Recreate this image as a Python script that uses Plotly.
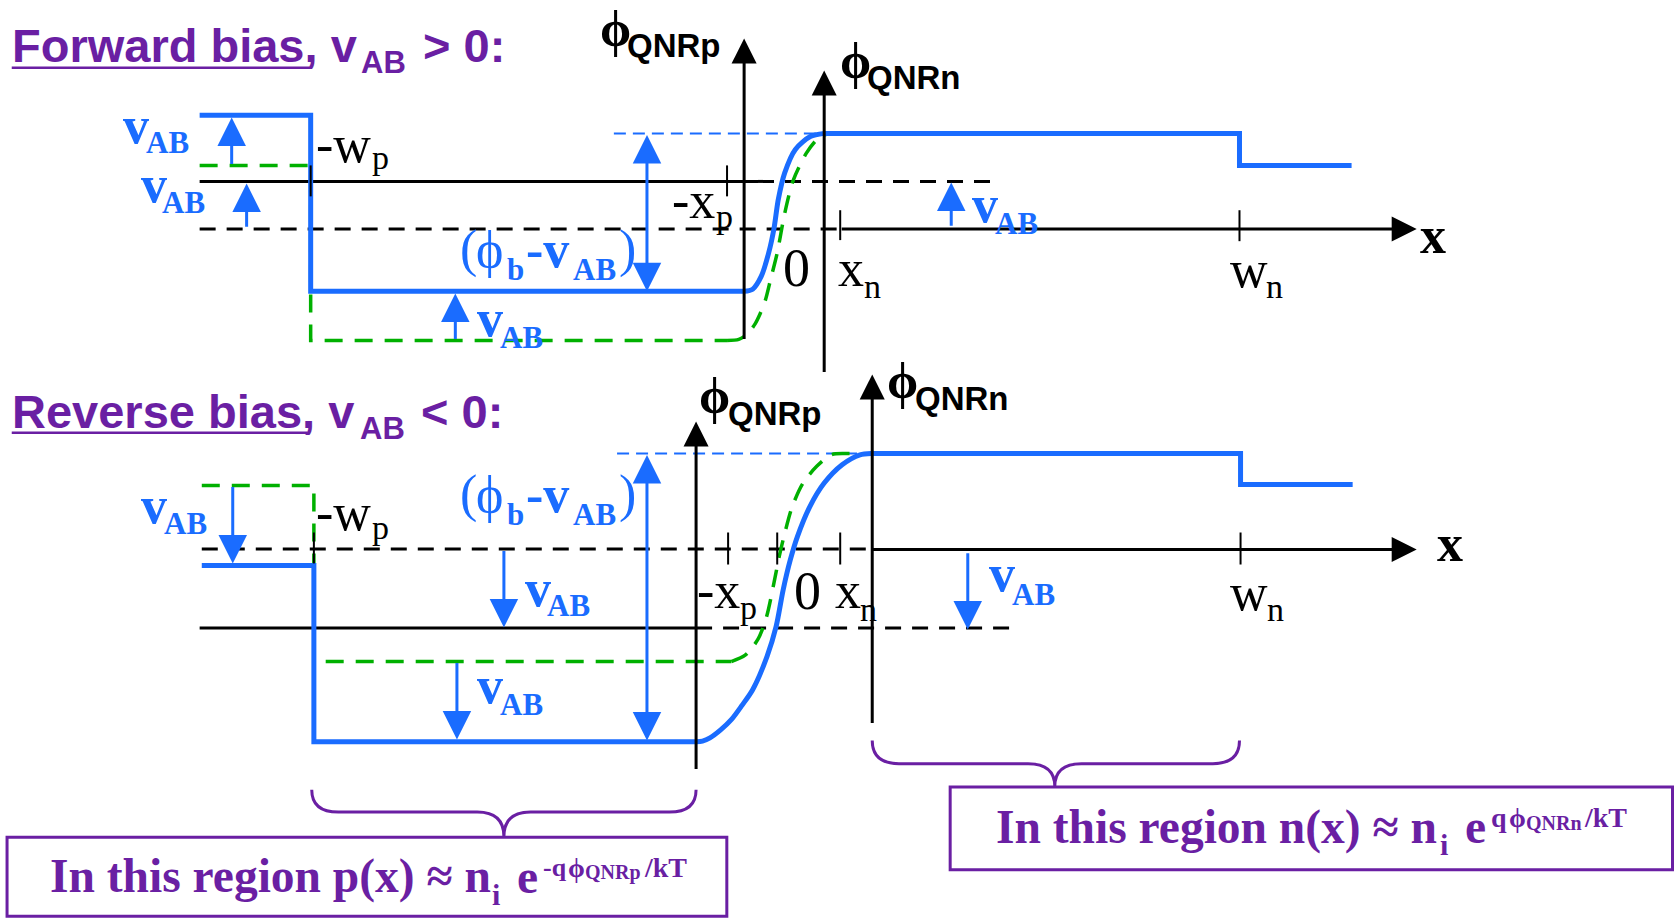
import plotly.graph_objects as go

# reference drawing units (y grows downward), mapped on the 1674x922 canvas
REF_W, REF_H = 1568, 864
PX_W, PX_H = 1674, 922
K = PX_W / REF_W

BLUE = "#1a6cff"
GREEN = "#00b000"
PURPLE = "#6a1fa3"
BLACK = "#000000"
SANS = "Liberation Sans, Arial, sans-serif"
SERIF = "Liberation Serif, Times New Roman, serif"
PHI = "\u03d5"

# ---------------- forward bias ----------------
fwd_blue_step1_x = [187, 291, 291, 697]
fwd_blue_step1_y = [108, 108, 273, 273]
fwd_blue_curve_x = [697, 705, 713, 720, 725, 729, 735, 745, 759, 772]
fwd_blue_curve_y = [273, 271, 259, 237, 214, 187, 162, 140, 128, 125]
fwd_blue_step2_x = [772, 1161, 1161, 1266]
fwd_blue_step2_y = [125, 125, 155, 155]

fwd_green_step_x = [187, 291, 291, 681]
fwd_green_step_y = [155, 155, 319, 319]
fwd_green_curve_x = [681, 692, 700, 707, 712, 717, 722, 728, 735, 743, 755, 765, 774, 782]
fwd_green_curve_y = [319, 318, 313, 304, 294, 281, 261, 237, 200, 169, 144, 131, 126, 125]

fwd_solid_x = [187, 710]
fwd_solid_y = [170, 170]
fwd_dash1_x = [710, 936]
fwd_dash1_y = [170, 170]
fwd_dash2_x = [187, 787]
fwd_dash2_y = [214.5, 214.5]
fwd_ref_x = [575, 772]
fwd_ref_y = [125, 125]

fwd_tick_x = [291, 681, 787, 1161]
fwd_tick_y0 = [155, 155, 197, 197]
fwd_tick_y1 = [184, 184, 225, 226]

# axes: (tail, tip)
fwd_axes = [((697, 319), (697, 36)), ((772, 350), (772, 66)), ((787, 214.5), (1327, 214.5))]
fwd_arrows = [((217, 155), (217, 110)), ((231, 214), (231, 172)),
              ((426.5, 319), (426.5, 275)), ((891, 213), (891, 171))]
fwd_double = ((606, 125), (606, 273))

# ---------------- reverse bias ----------------
rev_blue_step1_x = [189, 294, 294, 652]
rev_blue_step1_y = [530, 530, 695, 695]
rev_blue_curve_x = [652, 658, 665, 675, 685, 695, 705, 718.5, 727, 733.6, 740.3, 747, 758.7, 772, 788.8, 805.5, 816]
rev_blue_curve_y = [695, 694.5, 691.5, 684, 674.4, 661, 646.3, 615, 587, 552.6, 524.5, 502.6, 474.5, 452.7, 435.5, 426.2, 425]
rev_blue_step2_x = [816, 1162, 1162, 1267]
rev_blue_step2_y = [425, 425, 454, 454]

rev_green_step_x = [189, 294, 294, 685]
rev_green_step_y = [455, 455, 620, 620]
rev_green_curve_x = [685, 698, 710, 718, 725, 730, 735, 742, 752, 765, 779, 792, 805]
rev_green_curve_y = [620, 614, 599, 578, 546, 521, 500, 475, 453, 437, 426, 425, 425]

rev_solid_x = [187, 652]
rev_solid_y = [588.5, 588.5]
rev_dash1_x = [652, 951]
rev_dash1_y = [588.5, 588.5]
rev_dash2_x = [189, 815]
rev_dash2_y = [514.5, 514.5]
rev_ref_x = [578, 816]
rev_ref_y = [425, 425]

rev_tick_x = [294, 682, 728, 787, 1162]
rev_tick_y0 = [499, 499, 499, 499, 499]
rev_tick_y1 = [528, 529, 529, 529, 529]

rev_axes = [((652, 722), (652, 395)), ((817, 679), (817, 351)), ((815, 515), (1327, 515))]
rev_arrows = [((218, 455), (218, 528)), ((472, 515), (472, 588)),
              ((428, 620), (428, 693)), ((906.5, 517), (906.5, 590))]
rev_double = ((606, 425), (606, 694))

# ---------------- text (text, left x, baseline y, px size) ----------------
title_main = [("Forward bias, v", 11, 57.8, 47), ("> 0:", 396, 57.8, 47),
              ("Reverse bias, v", 11, 401.2, 47), ("< 0:", 394, 401.2, 47)]
title_sub = [("AB", 338, 68.7, 31), ("AB", 337, 412, 31)]
title_underline = [(11, 290, 63.5), (11, 288, 405.5)]

phi_axis = [(PHI, 562, 43, 50), (PHI, 787, 73, 50), (PHI, 655, 386.5, 50), (PHI, 831, 372.5, 50)]
phi_axis_sub = [("QNRp", 587, 53, 33), ("QNRn", 812, 83, 33),
                ("QNRp", 682, 398, 33), ("QNRn", 857, 384, 33)]

black_main = [("-w", 296, 151.4, 52), ("-x", 629, 204.5, 52), ("0", 733, 268.5, 54),
              ("x", 785, 268.5, 52), ("w", 1152, 268.6, 52),
              ("-w", 296, 496.4, 52), ("-x", 653, 570, 52), ("0", 743.6, 571.3, 54),
              ("x", 782, 569.8, 52), ("w", 1152, 571.4, 52)]
black_sub = [("p", 348, 158, 34), ("p", 671, 214, 34), ("n", 809, 279.4, 34), ("n", 1186, 279.5, 34),
             ("p", 348, 505, 34), ("p", 693.5, 579.6, 34), ("n", 805.5, 582, 34), ("n", 1186.4, 582, 34)]
axis_x_label = [("x", 1330, 237, 52), ("x", 1345.8, 526, 52)]

vab_v = [(115, 134), (132, 189), (447, 315), (910, 208),
         (132, 490), (492, 568.3), (447, 659), (926, 554)]
vab_ab = [(137, 143.6), (152, 199.8), (468, 326), (932, 219),
          (154, 500), (512, 577.6), (468, 670), (947.7, 566.7)]

phib_baseline = [250, 479.6]
phib_parts_regular = [("(", 431), (PHI, 446), (")", 579.7)]
phib_parts_bold = [("-v", 493)]
phib_parts_sub = [("b", 475), ("AB", 537)]

box_rects = [(6.6, 784.6, 680.8, 858.6), (890, 737.5, 1566.6, 815)]
box_main = [("In this region p(x) \u2248 n", 46.4, 836.8), ("e", 484, 836.8),
            ("In this region n(x) \u2248 n", 933, 790), ("e", 1372, 790)]
box_sub_i = [(460.5, 847.7), (1349, 800.9)]
box_sup = [("-q", 509, 821.5, 26), (PHI, 532, 821.5, 27), ("QNRp", 547.5, 824, 20), ("/kT", 603, 821.5, 28),
           ("q", 1397, 774.7, 28), (PHI, 1413, 774.7, 27), ("QNRn", 1429, 777.5, 20), ("/kT", 1484, 774.7, 28)]

# braces: (x_left, x_mid, x_right, y_top, y_bar, y_tip)
braces = [(292, 472, 652, 740, 761, 784), (817, 988, 1161, 694, 715.6, 737)]

# ---------------- build ----------------
fig = go.Figure()


def line(xs, ys, color, width, dash="solid", spline=False):
    ln = dict(color=color, width=width, dash=dash)
    if spline:
        ln.update(shape="spline", smoothing=0.8)
    fig.add_trace(go.Scatter(x=xs, y=ys, mode="lines", line=ln, hoverinfo="skip", showlegend=False))


BLACK_DASH = "16px,11px"
GREEN_DASH = "18px,12px"
REF_DASH = "12px,7px"

# black reference lines
line(fwd_solid_x, fwd_solid_y, BLACK, 3)
line(fwd_dash1_x, fwd_dash1_y, BLACK, 3, BLACK_DASH)
line(fwd_dash2_x, fwd_dash2_y, BLACK, 3, BLACK_DASH)
line(rev_solid_x, rev_solid_y, BLACK, 3)
line(rev_dash1_x, rev_dash1_y, BLACK, 3, BLACK_DASH)
line(rev_dash2_x, rev_dash2_y, BLACK, 3, BLACK_DASH)
# thin blue reference
line(fwd_ref_x, fwd_ref_y, BLUE, 2, REF_DASH)
line(rev_ref_x, rev_ref_y, BLUE, 2, REF_DASH)
# green (equilibrium) dashed
line(fwd_green_step_x, fwd_green_step_y, GREEN, 3.5, GREEN_DASH)
line(fwd_green_curve_x, fwd_green_curve_y, GREEN, 3.5, GREEN_DASH, spline=True)
line(rev_green_step_x, rev_green_step_y, GREEN, 3.5, GREEN_DASH)
line(rev_green_curve_x, rev_green_curve_y, GREEN, 3.5, GREEN_DASH, spline=True)
# blue potential
for xs, ys, sp in [(fwd_blue_step1_x, fwd_blue_step1_y, False), (fwd_blue_curve_x, fwd_blue_curve_y, True),
                   (fwd_blue_step2_x, fwd_blue_step2_y, False), (rev_blue_step1_x, rev_blue_step1_y, False),
                   (rev_blue_curve_x, rev_blue_curve_y, True), (rev_blue_step2_x, rev_blue_step2_y, False)]:
    line(xs, ys, BLUE, 5, spline=sp)

# ticks
tx, ty = [], []
for xs, y0s, y1s in [(fwd_tick_x, fwd_tick_y0, fwd_tick_y1), (rev_tick_x, rev_tick_y0, rev_tick_y1)]:
    for x, a, b in zip(xs, y0s, y1s):
        tx += [x, x, None]
        ty += [a, b, None]
line(tx, ty, BLACK, 2)

# underlines of titles
ux, uy = [], []
for a, b, y in title_underline:
    ux += [a, b, None]
    uy += [y, y, None]
line(ux, uy, PURPLE, 2.5)

ann = []


def arrow(tail, tip, color, width, size, both=False):
    d = dict(x=tip[0], y=tip[1], ax=tail[0], ay=tail[1], xref="x", yref="y", axref="x", ayref="y",
             text="", showarrow=True, arrowhead=2, arrowsize=size, arrowwidth=width,
             arrowcolor=color, standoff=0, startstandoff=0)
    if both:
        d.update(arrowside="end+start", startarrowhead=2, startarrowsize=size)
    ann.append(d)


def label(text, x, base, size, family, color, bold=False):
    off = (0.3465 if family == SANS else 0.3375) * size / K
    ann.append(dict(x=x, y=base - off, xref="x", yref="y", text=text, showarrow=False,
                    xanchor="left", yanchor="middle", borderpad=0, borderwidth=0,
                    font=dict(family=family, size=size, color=color,
                              weight="bold" if bold else "normal")))


for tail, tip in fwd_axes + rev_axes:
    arrow(tail, tip, BLACK, 3, 1.67)
for tail, tip in fwd_arrows + rev_arrows:
    arrow(tail, tip, BLUE, 3, 1.9)
for tail, tip in [fwd_double, rev_double]:
    arrow(tail, tip, BLUE, 3, 1.9, both=True)

for t, x, b, s in title_main:
    label(t, x, b, s, SANS, PURPLE, True)
for t, x, b, s in title_sub:
    label(t, x, b, s, SANS, PURPLE, True)
for t, x, b, s in phi_axis:
    label(t, x, b, s, SERIF, BLACK, True)
for t, x, b, s in phi_axis_sub:
    label(t, x, b, s, SANS, BLACK, True)
for t, x, b, s in black_main + black_sub:
    label(t, x, b, s, SERIF, BLACK)
for t, x, b, s in axis_x_label:
    label(t, x, b, s, SERIF, BLACK, True)
for (x, b) in vab_v:
    label("v", x, b, 52, SERIF, BLUE, True)
for (x, b) in vab_ab:
    label("AB", x, b, 31, SERIF, BLUE, True)
for base in phib_baseline:
    for t, x in phib_parts_regular:
        label(t, x, base, 52, SERIF, BLUE)
    for t, x in phib_parts_bold:
        label(t, x, base, 52, SERIF, BLUE, True)
    for t, x in phib_parts_sub:
        label(t, x, base + 12, 31, SERIF, BLUE, True)
for t, x, b in box_main:
    label(t, x, b, 47.5, SERIF, PURPLE, True)
for x, b in box_sub_i:
    label("i", x, b, 30, SERIF, PURPLE, True)
for t, x, b, s in box_sup:
    label(t, x, b, s, SERIF, PURPLE, True)

shapes = []
for x0, y0, x1, y1 in box_rects:
    shapes.append(dict(type="rect", xref="x", yref="y", x0=x0, y0=y0, x1=x1, y1=y1,
                       line=dict(color=PURPLE, width=3), fillcolor="rgba(0,0,0,0)"))
for xl, xm, xr, yt, yb, ytip in braces:
    r = 25
    p = (f"M {xl},{yt} Q {xl},{yb} {xl + r},{yb} L {xm - r},{yb} Q {xm},{yb} {xm},{ytip} "
         f"Q {xm},{yb} {xm + r},{yb} L {xr - r},{yb} Q {xr},{yb} {xr},{yt}")
    shapes.append(dict(type="path", xref="x", yref="y", path=p, line=dict(color=PURPLE, width=3)))

fig.update_layout(
    width=PX_W, height=PX_H, margin=dict(l=0, r=0, t=0, b=0),
    paper_bgcolor="white", plot_bgcolor="white",
    xaxis=dict(range=[0, REF_W], visible=False, fixedrange=True),
    yaxis=dict(range=[REF_H, 0], visible=False, fixedrange=True),
    showlegend=False, hovermode=False, annotations=ann, shapes=shapes,
)
fig.write_html("out.html", config={"displayModeBar": False, "staticPlot": True},
               post_script="document.body.style.margin='0';document.body.style.overflow='hidden';")
